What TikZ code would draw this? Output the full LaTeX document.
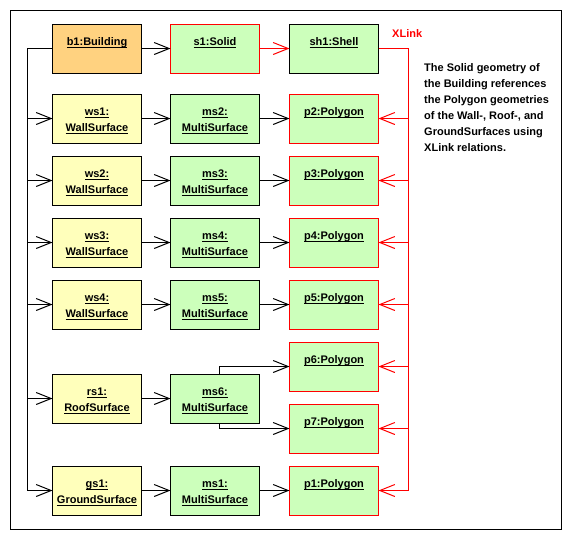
\documentclass[tikz,border=0pt]{standalone}
\usepackage{fontspec}
\setmainfont{Liberation Sans}
\usetikzlibrary{arrows.meta}

\definecolor{bldfill}{RGB}{255,210,128}
\definecolor{surffill}{RGB}{255,255,187}
\definecolor{geomfill}{RGB}{204,255,187}

% underline at a fixed offset below the baseline
\newcommand\objul[1]{\leavevmode\setbox0\hbox{#1}\rlap{\rule[-2.6pt]{\wd0}{0.9pt}}\box0}
% object label laid out from the top of its box (lines separated by \par)
\newcommand\objtext[1]{\parbox[b][49pt][t]{89pt}{\centering\baselineskip=16pt\rule{0pt}{21.5pt}#1\par}}

\begin{document}
\begin{tikzpicture}[x=1pt,y=-1pt,
  font=\fontsize{11}{16}\selectfont\bfseries,
  obj/.style={draw, line width=1pt, inner sep=0pt, outer sep=0pt,
    minimum width=89pt, minimum height=49pt, anchor=north west},
  bld/.style={obj, fill=bldfill},
  surf/.style={obj, fill=surffill},
  geom/.style={obj, fill=geomfill},
  geomref/.style={obj, fill=geomfill, draw=red},
  link/.style={draw, line width=1pt,
    -{Straight Barb[length=15pt,width=12pt,line width=1pt]}},
  xlink/.style={link, red},
  plain/.style={draw, line width=1pt}
]
\useasboundingbox (0,0) rectangle (571,539);
\draw[line width=1pt] (10.5,10.5) rectangle (561.5,529.5);

% building and its solid
\node[bld] (b1) at (52.5,24) {\objtext{\objul{b1:Building}}};
\node[geomref] (s1) at (170.5,24) {\objtext{\objul{s1:Solid}}};
\node[geom] (sh1) at (289.5,24) {\objtext{\objul{sh1:Shell}}};

% wall surfaces
\node[surf] (ws1) at (52.5,94) {\objtext{\objul{ws1:}\par\objul{WallSurface}}};
\node[geom] (ms2) at (170.5,94) {\objtext{\objul{ms2:}\par\objul{MultiSurface}}};
\node[geomref] (p2) at (289.5,94) {\objtext{\objul{p2:Polygon}}};

\node[surf] (ws2) at (52.5,156) {\objtext{\objul{ws2:}\par\objul{WallSurface}}};
\node[geom] (ms3) at (170.5,156) {\objtext{\objul{ms3:}\par\objul{MultiSurface}}};
\node[geomref] (p3) at (289.5,156) {\objtext{\objul{p3:Polygon}}};

\node[surf] (ws3) at (52.5,218) {\objtext{\objul{ws3:}\par\objul{WallSurface}}};
\node[geom] (ms4) at (170.5,218) {\objtext{\objul{ms4:}\par\objul{MultiSurface}}};
\node[geomref] (p4) at (289.5,218) {\objtext{\objul{p4:Polygon}}};

\node[surf] (ws4) at (52.5,280) {\objtext{\objul{ws4:}\par\objul{WallSurface}}};
\node[geom] (ms5) at (170.5,280) {\objtext{\objul{ms5:}\par\objul{MultiSurface}}};
\node[geomref] (p5) at (289.5,280) {\objtext{\objul{p5:Polygon}}};

% roof surface
\node[geomref] (p6) at (289.5,342) {\objtext{\objul{p6:Polygon}}};
\node[surf] (rs1) at (52.5,374) {\objtext{\objul{rs1:}\par\objul{RoofSurface}}};
\node[geom] (ms6) at (170.5,374) {\objtext{\objul{ms6:}\par\objul{MultiSurface}}};
\node[geomref] (p7) at (289.5,404) {\objtext{\objul{p7:Polygon}}};

% ground surface
\node[surf] (gs1) at (52.5,466) {\objtext{\objul{gs1:}\par\objul{GroundSurface}}};
\node[geom] (ms1) at (170.5,466) {\objtext{\objul{ms1:}\par\objul{MultiSurface}}};
\node[geomref] (p1) at (289.5,466) {\objtext{\objul{p1:Polygon}}};

% left trunk from the building to its boundary surfaces
\coordinate (tk) at (27,0);
\draw[plain] (b1.west) -- (b1.west -| tk) -- (gs1.west -| tk);
\foreach \s in {ws1,ws2,ws3,ws4,rs1,gs1}
  \draw[link] (\s.west -| tk) -- (\s.west);

% surface -> multisurface -> polygon
\draw[link] (b1) -- (s1);
\draw[xlink] (s1) -- (sh1);
\foreach \a/\b/\c in {ws1/ms2/p2,ws2/ms3/p3,ws3/ms4/p4,ws4/ms5/p5,gs1/ms1/p1} {
  \draw[link] (\a) -- (\b);
  \draw[link] (\b) -- (\c);
}
\draw[link] (rs1) -- (ms6);
\draw[link] ([xshift=4.5pt]ms6.north) |- (p6.west);
\draw[link] ([xshift=4.5pt]ms6.south) |- (p7.west);

% XLink references from the shell to the polygons
\coordinate (xl) at (408.5,0);
\draw[plain, red] (sh1.east) -- (sh1.east -| xl) -- (p1.east -| xl);
\foreach \p in {p2,p3,p4,p5,p6,p7,p1}
  \draw[xlink] (\p.east -| xl) -- (\p.east);
\node[red, anchor=base west, inner sep=0pt] (xlabel) at (392,37) {XLink};

\node[anchor=north west, align=left, inner sep=0pt] (note) at (424,63)
  {The Solid geometry of\\the Building references\\the Polygon geometries\\of the Wall-, Roof-, and\\GroundSurfaces using\\XLink relations.};
\end{tikzpicture}
\end{document}
